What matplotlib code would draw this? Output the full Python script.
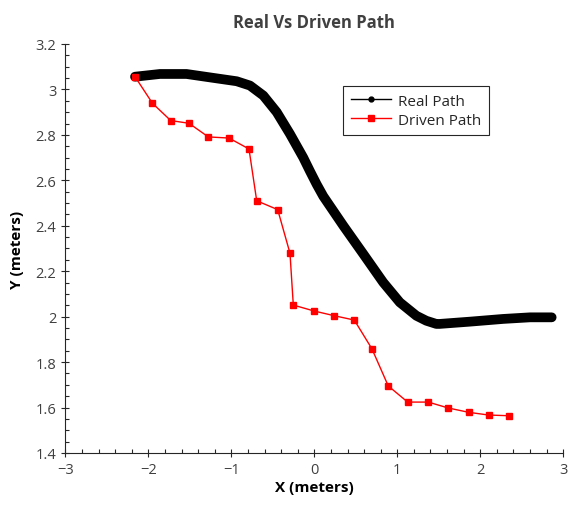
import matplotlib
matplotlib.use("Agg")
import matplotlib.pyplot as plt
from matplotlib.lines import Line2D
from matplotlib.ticker import MultipleLocator

plt.rcParams['font.family'] = ['Open Sans', 'DejaVu Sans']

# Real path
real_x = [-2.16, -1.86, -1.54, -1.22, -0.935, -0.775, -0.614, -0.453, -0.293, -0.133,
          -0.052, 0.029, 0.108, 0.35, 0.59, 0.83, 1.03, 1.23, 1.35, 1.47, 1.51,
          1.876, 2.277, 2.60, 2.86]
real_y = [3.056, 3.068, 3.068, 3.051, 3.036, 3.017, 2.973, 2.90, 2.804, 2.70,
          2.64, 2.582, 2.53, 2.40, 2.276, 2.151, 2.063, 2.004, 1.982, 1.968, 1.968,
          1.978, 1.99, 1.997, 1.997]

# Driven path
driven_x = [-2.16, -1.95, -1.73, -1.51, -1.277, -1.028, -0.787, -0.694, -0.441, -0.293,
            -0.253, -0.004, 0.241, 0.482, 0.695, 0.891, 1.125, 1.373, 1.614, 1.86,
            2.10, 2.342]
driven_y = [3.056, 2.939, 2.863, 2.851, 2.791, 2.786, 2.738, 2.51, 2.471, 2.279,
            2.051, 2.025, 2.004, 1.985, 1.858, 1.695, 1.624, 1.624, 1.598, 1.579,
            1.567, 1.564]

fig = plt.figure(figsize=(5.68, 5.06), dpi=100)
ax = fig.add_axes([0.115, 0.1028, 0.8767, 0.8083])

ax.plot(real_x, real_y, color='black', lw=7, solid_capstyle='round',
        solid_joinstyle='round', zorder=2)
ax.plot(driven_x, driven_y, color='red', lw=1, marker='s', markersize=4.5,
        zorder=3)

ax.set_xlim(-3, 3)
ax.set_ylim(1.4, 3.2)
ax.xaxis.set_major_locator(MultipleLocator(1))
ax.xaxis.set_minor_locator(MultipleLocator(0.2))
ax.yaxis.set_major_locator(MultipleLocator(0.2))
ax.yaxis.set_minor_locator(MultipleLocator(0.05))
ax.yaxis.set_major_formatter(plt.FuncFormatter(lambda v, p: ('%g' % round(v, 2))))

for s in ['top', 'right']:
    ax.spines[s].set_visible(False)
for s in ['left', 'bottom']:
    ax.spines[s].set_color('#262626')
    ax.spines[s].set_linewidth(0.8)

ax.tick_params(which='major', direction='inout', length=6, width=0.8,
               colors='#262626', labelcolor='#404040', labelsize=10.5)
ax.tick_params(which='minor', direction='in', length=3, width=0.8, colors='#262626')

ax.set_title('Real Vs Driven Path', fontsize=12, fontweight='bold', color='#404040', pad=12)
ax.set_xlabel('X (meters)', fontsize=11, fontweight='bold', color='black', labelpad=2)
ax.set_ylabel('Y (meters)', fontsize=11, fontweight='bold', color='black', labelpad=8)

handles = [Line2D([], [], color='black', lw=1, marker='.', markersize=7),
           Line2D([], [], color='red', lw=1, marker='s', markersize=4.5)]
leg = ax.legend(handles, ['Real Path', 'Driven Path'], loc='upper left',
                bbox_to_anchor=(0.558, 0.897), fontsize=11, fancybox=False,
                framealpha=1, borderpad=0.5, labelspacing=0.25, handlelength=2.6,
                handletextpad=0.5, borderaxespad=0)
leg.get_frame().set_edgecolor('#262626')
leg.get_frame().set_linewidth(0.8)
for t in leg.get_texts():
    t.set_color('#262626')

plt.savefig('out.png', dpi=100)
